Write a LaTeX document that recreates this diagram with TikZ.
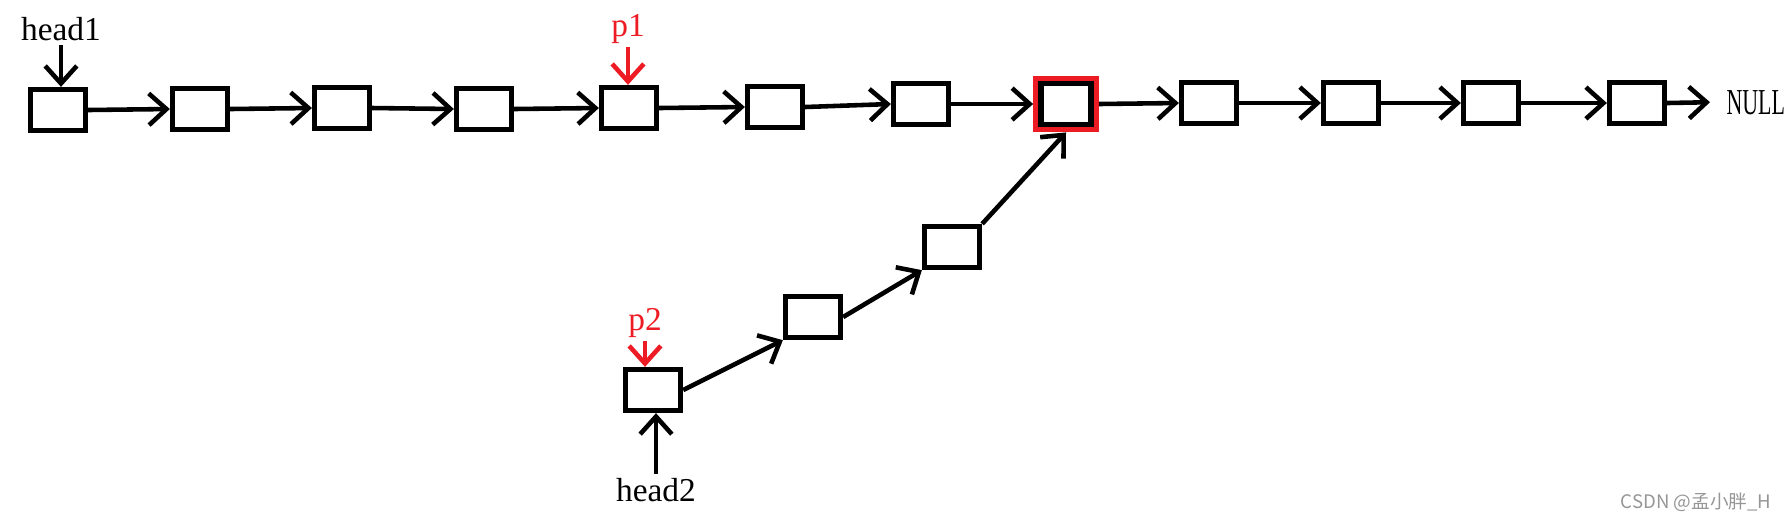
\documentclass[tikz,border=0pt]{standalone}
\usepackage{fontspec}
\setmainfont{Liberation Serif}
\newfontfamily\condserif[FakeStretch=0.6]{Liberation Serif}
\newfontfamily\cjksans{Noto Sans CJK SC}
\usepackage{xcolor}
\usetikzlibrary{positioning}
\usetikzlibrary{arrows.meta}
\usetikzlibrary{fit}

\definecolor{paintred}{HTML}{ED1C24}
\definecolor{markgray}{RGB}{150,150,150}

\begin{document}
\begin{tikzpicture}[
		box/.style={draw, line width=1.5pt, minimum width=0.55cm, minimum height=0.41cm, inner sep=0pt},
		link/.style={line width=1.3pt, -{Straight Barb[length=5pt, width=9pt]}},
		lbl/.style={font=\fontsize{9.5}{11}\selectfont, inner sep=1pt}
	]
	\useasboundingbox (0,0) rectangle (17.87,5.21);

	% First list
	\node[box] (a1) at (0.58,4.11) {};
	\node[box] (a2) at (2.00,4.12) {};
	\node[box] (a3) at (3.42,4.13) {};
	\node[box] (a4) at (4.84,4.12) {};
	\node[box] (a5) at (6.29,4.13) {};
	\node[box] (a6) at (7.75,4.14) {};
	\node[box] (a7) at (9.21,4.17) {};
	\node[box, minimum width=0.50cm] (a8) at (10.66,4.17) {};
	\node[box] (a9) at (12.09,4.18) {};
	\node[box] (a10) at (13.51,4.18) {};
	\node[box] (a11) at (14.91,4.18) {};
	\node[box] (a12) at (16.37,4.18) {};

	% Meeting node
	\node[draw=paintred, line width=1.5pt, inner sep=0.75pt, fit=(a8)] (meet) {};

	% Second list
	\node[box] (b1) at (6.53,1.31) {};
	\node[box] (b2) at (8.13,2.04) {};
	\node[box] (b3) at (9.52,2.74) {};

	% Labels
	\node[lbl, anchor=base] (head1) at (0.61,4.81) {head1};
	\node[lbl, anchor=base, text=paintred] (p1) at (6.28,4.85) {p1};
	\node[lbl, anchor=base, text=paintred] (p2) at (6.45,1.91) {p2};
	\node[lbl, anchor=base] (head2) at (6.56,0.20) {head2};
	\node[font=\condserif\fontsize{10.4}{12}\selectfont, inner sep=4.5pt, anchor=base west] (null) at (17.10,4.07) {NULL};

	% Links of the first list
	\draw[link] (a1.east) -- (a2.west);
	\draw[link] (a2.east) -- (a3.west);
	\draw[link] (a3.east) -- (a4.west);
	\draw[link] (a4.east) -- (a5.west);
	\draw[link] (a5.east) -- (a6.west);
	\draw[link] (a6.east) -- (a7.west);
	\draw[link] (a7.east) -- (meet.west);
	\draw[link] (meet.east) -- (a9.west);
	\draw[link] (a9.east) -- (a10.west);
	\draw[link] (a10.east) -- (a11.west);
	\draw[link] (a11.east) -- (a12.west);
	\draw[link] (a12.east) -- (null.west);

	% Links of the second list
	\draw[link] (b1.east) -- (b2.south west);
	\draw[link] (b2.east) -- (b3.south west);
	\draw[link] (b3.north east) -- (meet.south);

	% Pointers
	\draw[link] (head1.south) -- (head1.south |- a1.north);
	\draw[link, paintred] (p1.south) -- (p1.south |- a5.north);
	\draw[link, paintred] (p2.south) -- (p2.south |- b1.north);
	\draw[link] (head2.north) -- (head2.north |- b1.south);

	\node[font=\cjksans\fontsize{5.3}{6}\selectfont, text=markgray, inner sep=0pt, anchor=east] (mark) at (17.72,0.19) {CSDN @孟小胖\_H};

\end{tikzpicture}
\end{document}
